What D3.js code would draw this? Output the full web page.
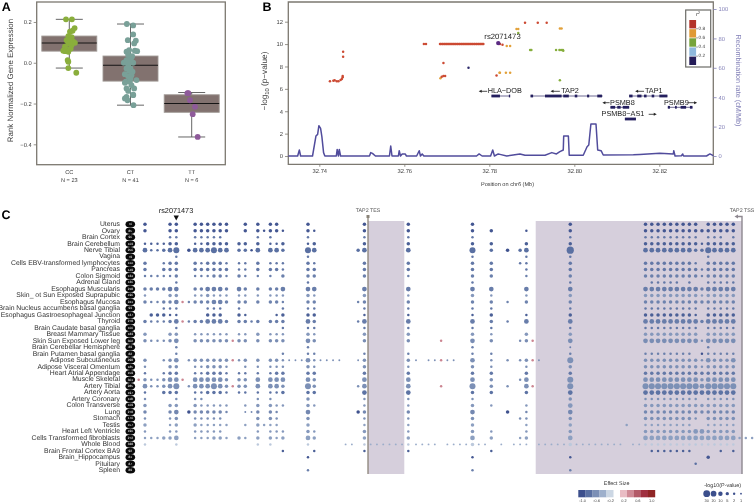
<!DOCTYPE html>
<html><head><meta charset="utf-8">
<script src="https://cdn.jsdelivr.net/npm/d3@7"></script>
<style>
html,body{margin:0;padding:0;background:#fff}
svg{display:block;font-family:"Liberation Sans",Arial,sans-serif;will-change:transform;text-rendering:geometricPrecision}
</style></head><body><svg id="c" width="756" height="503"></svg>
<script>
/* ---------- Panel A data ---------- */
const genotypes=["CC","CT","TT"];
const genotypeN=["N = 23","N = 41","N = 6"];
const boxQ1=[0.057,-0.09,-0.243], boxMed=[0.097,-0.012,-0.2], boxQ3=[0.131,0.033,-0.157];
const whiskLo=[-0.026,-0.208,-0.364], whiskHi=[0.213,0.19,-0.146];
const ccValues=[.213,.213,.170,.157,.152,.131,.125,.103,.111,.108,.095,.087,.098,.079,.066,.059,.057,.069,.054,.013,.005,-.026,-.049];
const ccJitter=[-.054,.043,.087,.054,.011,-.016,.038,.065,-.043,.011,-.016,.038,.092,-.071,-.043,-.098,-.065,.022,-.016,-.027,-.016,-.016,.114];
const ctValues=[.19,.183,.139,.111,.108,.095,.054,.059,.057,.038,.026,.013,.016,0,0,-.011,-.028,-.039,-.044,-.056,-.066,-.061,-.093,-.093,-.085,-.098,-.11,-.126,-.138,-.159,-.167,-.175,-.184,-.156,-.208,-.077,-.028,.005,.033,.062,-.126];
const ctJitter=[-.06,.044,.044,-.044,.087,.06,-.065,.071,.109,-.038,.016,-.065,-.011,-.109,.044,-.038,0,-.022,.033,-.092,-.038,.016,-.076,-.011,.098,-.092,.016,.06,-.038,.044,-.065,-.092,-.049,.044,.049,0,-.065,-.038,.027,-.022,-.065];
const ttValues=[-.149,-.149,-.184,-.216,-.252,-.364];
const ttJitter=[-.054,-.07,-.027,.054,.016,.098];
/* ---------- Panel B data ---------- */
const recombPos=[32.7327,32.7349,32.7353,32.7356,32.7384,32.7392,32.7396,32.7399,32.7403,32.7406,32.7410,32.7413,32.7440,32.7442,32.7445,32.7447,32.7450,32.7518,32.7521,32.7525,32.7532,32.7565,32.7568,32.7571,32.7586,32.7588,32.7591,32.7595,32.7602,32.7605,32.7629,32.7635,32.7638,32.7642,32.7646,32.7770,32.7776,32.7783,32.7803,32.7808,32.7812,32.7821,32.7825,32.7841,32.7856,32.7872,32.7884,32.7931,32.7947,32.7958,32.7966,32.7974,32.7975,32.7986,32.7988,32.8021,32.8030,32.8034,32.8039,32.8051,32.8055,32.8063,32.8068,32.8139,32.8154,32.8201,32.8233,32.8234,32.8237,32.8252,32.8255,32.8257,32.8311,32.8319,32.8327];
const recombRate=[0,0,4.1,0,0,13.6,14.7,20.6,18.8,13.2,2.3,0,0,4.5,0,4.5,0,0,2.3,1.8,0,0,6.8,0,0,3.6,0,1.4,1.4,0,0,3.6,0,1.4,0,0,1.4,0,0,4.1,0,1.4,1.1,0,.7,1.4,.5,.5,2.3,1.4,3,4.1,13.6,13.6,.5,.5,6.3,7.5,21.8,21.8,4.1,3.6,.7,.9,1.1,1.8,1.4,3.6,0,.2,1.4,0,0,1.4,.2];
const ldRedPos=[32.7425,32.7433,32.7436,32.7441,32.7445,32.7450,32.7453,32.7455,32.7455,32.7456,32.7456,32.7646,32.7651,32.7684,32.7686,32.7689,32.7691,32.7694,32.7696,32.7699,32.7701,32.7704,32.7706,32.7709,32.7711,32.7714,32.7716,32.7719,32.7721,32.7724,32.7726,32.7729,32.7731,32.7734,32.7736,32.7739,32.7741,32.7744,32.7746,32.7749,32.7751,32.7754,32.7756,32.7759,32.7761,32.7764,32.7766,32.7769,32.7771,32.7774,32.7776,32.7779,32.7781,32.7784,32.7786,32.7692,32.7688,32.7692,32.7696,32.7817,32.7825,32.7831,32.7884,32.7914,32.7935];
const ldRedVal=[6.67,6.73,6.76,6.67,6.67,6.79,6.88,7.03,7.15,8.87,9.32,10,10,10,10,10,10,10,10,10,10,10,10,10,10,10,10,10,10,10,10,10,10,10,10,10,10,10,10,10,10,10,10,10,10,10,10,10,10,10,10,10,10,10,10,8.31,7.09,7.15,7.15,7.2,10,9.95,11.9,11.9,11.9];
const ldOrangePos=[32.7685,32.7824,32.7841,32.7849,32.7825,32.7839,32.7849,32.7864,32.7868,32.7966,32.7970];
const ldOrangeVal=[6.94,7.44,9.83,9.83,7.44,7.44,7.44,11.35,11.35,11.4,11.4];
const ldGreenPos=[32.7868,32.7896,32.7899,32.7957,32.7965,32.7969,32.7973,32.7974,32.7966];
const ldGreenVal=[11,9.47,9.47,9.47,9.47,9.47,9.47,9.4,6.76];
const ldNavyPos=[32.7751], ldNavyVal=[7.89];
const leadSnp="rs2071473", leadPos=32.7821, leadVal=10.09;
const r2Ticks=["0.8","0.6","0.4","0.2"];
const geneNames=["HLA−DOB","TAP2","TAP1","PSMB8","PSMB9","PSMB8−AS1"];
const geneStart=[32.7805,32.7897,32.8129,32.8085,32.8220,32.8119];
const geneEnd=[32.7849,32.8067,32.8219,32.8129,32.8278,32.8145];
const geneStrand=[-1,-1,-1,-1,1,1];
const geneExons=[[[32.7805,32.7825],[32.7846,32.7849]],
 [[32.7897,32.7903],[32.7931,32.7970],[32.7974,32.7987],[32.8001,32.8007],[32.8030,32.8035],[32.8054,32.8065]],
 [[32.8129,32.8137],[32.8148,32.8158],[32.8164,32.8170],[32.8182,32.8188],[32.8200,32.8219]],
 [[32.8085,32.8096],[32.8101,32.8109],[32.8114,32.8129]],
 [[32.8220,32.8225],[32.8237,32.8241],[32.8250,32.8263],[32.8272,32.8278]],
 [[32.8119,32.8145]]];
/* ---------- Panel C data ---------- */
const tissues=["Uterus","Ovary","Brain Cortex","Brain Cerebellum","Nerve Tibial","Vagina","Cells EBV-transformed lymphocytes","Pancreas","Colon Sigmoid","Adrenal Gland","Esophagus Muscularis","Skin_ ot Sun Exposed Suprapubic","Esophagus Mucosa","Brain Nucleus accumbens basal ganglia","Esophagus Gastroesophageal Junction","Thyroid","Brain Caudate basal ganglia","Breast Mammary Tissue","Skin Sun Exposed Lower leg","Brain Cerebellar Hemisphere","Brain Putamen basal ganglia","Adipose Subcutaneous","Adipose Visceral Omentum","Heart Atrial Appendage","Muscle Skeletal","Artery Tibial","Artery Aorta","Artery Coronary","Colon Transverse","Lung","Stomach","Testis","Heart Left Ventricle","Cells Transformed fibroblasts","Whole Blood","Brain Frontal Cortex BA9","Brain_Hippocampus","Pituitary","Spleen"];
const tissueN=[70,85,96,103,256,79,114,149,124,126,218,196,241,93,127,278,100,183,302,89,82,298,185,159,361,285,197,118,169,278,170,157,190,272,338,92,81,87,89];
const tissueEffect=[-.95,-.95,-.75,-.9,-.8,-.75,-.75,-.75,-.7,-.75,-.72,-.55,-.68,-.75,-.9,-.72,-.75,-.55,-.62,-.7,-.7,-.6,-.6,-.75,-.6,-.6,-.78,-.6,-.55,-.65,-.6,-.5,-.55,-.5,-.42,-.9,-.95,-.8,-.7];
/* class per column: "cols:class" with class 1-6 (-log10 p bin), suffix d = strong effect, l = weak effect, r = positive effect */
const pBins=[1,2,5,10,20,30];
const rowDots=[
"1,5,6,9-14,17,19,21,22,27,36,43,53,68,80-88,90-94:3",
"1,5,6,9-14,17,19,21,22,27,36,43,53,56,68,80-94:3 20,23,28,61:2",
"5,6,9-13,19,21,27,36,43,53,68,80-88,90-92,94:2",
"1-4,9,10,21,22,27,89:2 5,6,11-14,16,17,19,23,28,36,43,53,56,61,68,80-88,90-94:3",
"2,3:2 18:2d 4,16,17,23,35,56,60,88,89:3 8,58:3d 1,5,9-11,13,14,19,21,22,28,36,43,61,80-87,91-94:4 6,12,27,53,90:5 68:6",
"6,27,53,61,68,90:2",
"4,10,14,16,17,21,22,23,28,60,61,88:2 1,5,6,9,11-13,19,27,36,43,53,56,68,80-87,90-94:3",
"16,17,23,61,89:2 1,4,5,6,9-14,19,21,22,27,28,36,43,53,56,68,80-88,90-94:3",
"1-5,9-11,14,17,19,21,43,61,89:2 6,12,13,16,23,27,28,36,53,56,68,80-88,90-94:3",
"6,27,53,68,81-85,87,90-94:2",
"1-4,9,10,14,17,19,21,22,89:3 5,6,11-13,16,23,27,28,36,43,53,56,61,68,80-88,90-94:4",
"1,9,10,12-14,16,17,19,21,22,23,28,43,56,61,89:2 5,6,11,27,36,53,68,80-88,90-94:3",
"2,3,8,23,35,58:2 1,4,5,9-11,14,16,17,19,21,22,27,28,36,43,53,56,61,68,80-94:3 6,12,13:4 7:r",
"4,5,6,11-13,16,23,27,28,36,43,53,56,68,80-88,90-94:2",
"5,6,17,22,36,43,53,61,88:2 2,3,4,11-13,16,23,27,28,56,68,80-87,90-94:3",
"2-4,8,18,35,58:2 1,5,9,10,14,16,17,19,21,22,23,28,56,89:3 6,11-13,27,36,43,53,61,68,80-88,90-94:4 7:r",
"6,23,27,28,36,43,53,56,68,80-88,90-94:2",
"9-14,16,17,21,22,23,28,56:2 1,5,6,19,27,36,43,53,61,68,80-88,90-94:3",
"2-4,60,89:2 1,5,9-14,16,17,19,21,22,23,28,36,43,56,61:3 6,27,53,68,80-88,90-94:4 15,48,62:r",
"68:1 6,27,53,90:2",
"6,23,27,28,36,43,53,56,68,80-87,90-94:2 89:2d",
"24-26,29-32,35,44,46,47,49,50,63:1 4,8,16,23,28,56,58,60,89:2 1,5,9-14,17,19,21,22,36,43,61,80-88,91-93:3 6,27,53,90,94:4 68:5 15,48,62:r",
"1,9,10,14,17,19,21,22,23,28,43,56,61,89:2 5,6,11-13,27,36,53,68,80-88,90-94:3",
"1,4,9,10,14,16,17,19,21:2 5,6,11-13,22,23,27,28,36,43,53,56,61,68,80-94:3",
"2,3,60:2 1,4,14,16,17,28,56,89:3 5,6,9-13,19,21,22,23,27,36,43,53,61,80-88,90-94:4 68:5 0,7:r",
"2,3,8,35,58:2 4,14,16,17,23,28,56:3 1,5,9-11,13,19,21,22,36,43,61,89:4 6,12,27,53,68,80-88,90-94:5 15,48,62:r",
"1,9,10,14,16,17,19,21,22:2 4,5,6,11-13,23,27,28,53,56,61:3 36,43,68,80-94:4",
"1,6,9,10,19,21,36,43,53,80-88,90-94:2 27,68:3",
"10-14,17,22,23,28,36,43,56,61:2 1,5,6,9,19,21,27,53,80-94:3 68:4",
"17,18:1 14,22,61:2 1,5,9-13,19,21,36,43,80-94:3 8,35,58:3d 6,27,53,68:4",
"1,5,9-13,22,36,43,60,61,88:2 6,19,21,27,53,68,80-87,90-94:3",
"5,10-14,17,20,21,22,36,43,61,77,80-87,90-94:2 1,6,9,19,27,53,68:3",
"1,5,6,9-13,19,21,22,23,28,43,56,61:2 27,36,53,68,80-87,90-94:3 88,89:4",
"1-3,9-11,14,17,22,60,95-97:2 4,5,12,13,16,19,21,23,28,36,43,56,61:3 6,27,53,68,80-94:4",
"33,34,37-42,44-47,49-52,54,55,57,59,60,61,63-67,69-76,78,79:1 1,6,19,21,27,36,43,80-94:2l 53,68:3l",
"23,28,36,43,56,81-87,92,94:2",
"27,53,68:2 90:3",
"88:2",
"27,53,68:2"];
const effectTicks=[-1,-.8,-.6,-.4,-.2,.2,.4,.6,.8,1];
const effectColors=["#3c4f8c","#5a70a2","#7c90b6","#9eb0cc","#ccd7e4","#e9bcc4","#cf8a96","#b35a68","#a03040","#8f2525"];
const effectLabels=["-1.0","-0.6","-0.2","0.2","0.6","1.0"];
const effectLabelValues=[-1,-.6,-.2,.2,.6,1];

const svg=d3.select("#c");
const FRAME="#7c7870", TXT="#3c3c3c";
function label(g,x,y,t,fs,opt={}){return g.append("text").attr("x",x).attr("y",y).text(t).attr("font-size",fs).attr("fill",opt.fill||TXT).attr("text-anchor",opt.anchor||"middle").attr("font-weight",opt.weight||null).attr("dominant-baseline","middle").attr("transform",opt.rot?`rotate(${opt.rot} ${x} ${y})`:null);}
function styleAxis(g,col,fs){g.select(".domain").remove();g.selectAll("line").attr("stroke",col).attr("stroke-width",.8);g.selectAll("text").attr("font-size",fs).attr("fill",col===FRAME?TXT:col);}

/* Panel letters */
label(svg,6.3,8,"A",12.5,{weight:"bold",fill:"#000"});
label(svg,267,8,"B",12.5,{weight:"bold",fill:"#000"});
label(svg,6,216,"C",12.5,{weight:"bold",fill:"#000"});

/* ---------- Panel A ---------- */
const ax=d3.scalePoint().domain(genotypes).range([69.3,191.7]);
const ay=d3.scaleLinear().domain([-.5,.298]).range([164.7,2]);
const A=svg.append("g");
A.append("rect").attr("x",36.7).attr("y",2).attr("width",188.6).attr("height",162.7).attr("fill","#fff").attr("stroke",FRAME).attr("stroke-width",1.3);
const aYAxis=A.append("g").attr("transform","translate(36.7,0)").call(d3.axisLeft(ay).tickValues([.2,0,-.2,-.4]).tickFormat(d3.format(".1f")).tickSize(3).tickPadding(2));
styleAxis(aYAxis,FRAME,5.8);
aYAxis.selectAll("text").text(d=>d3.format(".1f")(d));
label(A,10.5,80.5,"Rank Normalized Gene Expression",7.9,{rot:-90});
genotypes.forEach((g,i)=>{
  const x=ax(g),bw=55,cap=27;
  A.append("line").attr("x1",x).attr("x2",x).attr("y1",ay(whiskHi[i])).attr("y2",ay(whiskLo[i])).attr("stroke","#555").attr("stroke-width",.9);
  [whiskHi[i],whiskLo[i]].forEach(v=>A.append("line").attr("x1",x-cap/2).attr("x2",x+cap/2).attr("y1",ay(v)).attr("y2",ay(v)).attr("stroke","#555").attr("stroke-width",.9));
  A.append("rect").attr("x",x-bw/2).attr("width",bw).attr("y",ay(boxQ3[i])).attr("height",ay(boxQ1[i])-ay(boxQ3[i])).attr("fill","#82726f").attr("stroke","#a09a96").attr("stroke-width",.9);
  A.append("line").attr("x1",x-bw/2).attr("x2",x+bw/2).attr("y1",ay(boxMed[i])).attr("y2",ay(boxMed[i])).attr("stroke","#151515").attr("stroke-width",1.1);
  label(A,x,172.7,g,5.6);
  label(A,x,180.3,genotypeN[i],5.6);
});
[[ccValues,ccJitter,"CC","#8aae3c"],[ctValues,ctJitter,"CT","#79a098"],[ttValues,ttJitter,"TT","#8e5a9a"]].forEach(([v,j,g,c])=>{
  const step=ax.step();
  A.append("g").selectAll("circle").data(v).join("circle").attr("cx",(d,i)=>ax(g)+j[i]*step).attr("cy",d=>ay(d)).attr("r",2.9).attr("fill",c);
});

/* ---------- Panel B ---------- */
const bx=d3.scaleLinear().domain([32.7327,32.8327]).range([288.3,713.3]);
const by=d3.scaleLinear().domain([-.74,13.76]).range([164.3,2]);
const brec=d3.scaleLinear().domain([0,100]).range([156,9]);
const B=svg.append("g");
const RC="#8381b8";
B.append("path").attr("d","M288.3,2H713.3V164.3H288.3Z").attr("fill","#fff").attr("stroke",FRAME).attr("stroke-width",1.3);
styleAxis(B.append("g").attr("transform","translate(288.3,0)").call(d3.axisLeft(by).tickValues(d3.range(0,13,2)).tickSize(3.3).tickPadding(2)),FRAME,5.8);
styleAxis(B.append("g").attr("transform","translate(0,164.3)").call(d3.axisBottom(bx).tickValues([32.74,32.76,32.78,32.80,32.82]).tickFormat(d3.format(".2f")).tickSize(2.5).tickPadding(2.5)),FRAME,5.8);
styleAxis(B.append("g").attr("transform","translate(713.3,0)").call(d3.axisRight(brec).tickValues([0,20,40,60,80,100]).tickSize(3.3).tickPadding(2)),RC,5.8);
const yl=B.append("text").attr("transform","translate(265,81) rotate(-90)").attr("text-anchor","middle").attr("dominant-baseline","middle").attr("font-size",8.2).attr("fill",TXT);
yl.append("tspan").text("−log");
yl.append("tspan").text("10").attr("font-size",5.8).attr("dy",2.2);
yl.append("tspan").text(" (p−value)").attr("dy",-2.2);
label(B,507.5,185,"Position on chr6 (Mb)",5.6);
label(B,737.5,80.5,"Recombination rate (cM/Mb)",7.3,{rot:90,fill:RC});
const recLine=d3.line().x(d=>bx(d[0])).y(d=>brec(d[1]));
B.append("path").attr("d",recLine(d3.zip(recombPos,recombRate))).attr("fill","none").attr("stroke","#514c9c").attr("stroke-width",1.5).attr("stroke-linejoin","round");
[[ldNavyPos,ldNavyVal,"#2d2a6b"],[ldGreenPos,ldGreenVal,"#86ae3c"],[ldOrangePos,ldOrangeVal,"#e2a13a"],[ldRedPos,ldRedVal,"#cc4a33"]].forEach(([p,v,c])=>{
  B.append("g").selectAll("circle").data(p).join("circle").attr("cx",d=>bx(d)).attr("cy",(d,i)=>by(v[i])).attr("r",1.25).attr("fill",c);
});
B.append("circle").attr("cx",bx(leadPos)).attr("cy",by(leadVal)).attr("r",2.2).attr("fill","#5b2a83");
label(B,502.5,37,leadSnp,7.7,{fill:"#222"});
/* genes */
const geneRow=[0,0,0,1,1,2];
const geneY=[96,107.3,119], labelY=[91.3,102.7,114.3];
const labelAnchorX=[32.7796,32.7969,32.8166,32.8084,32.8211,32.8064];
const arrowX=[[32.7795,32.7775],[32.7966,32.7944],[32.8164,32.8143],[32.8083,32.8066],[32.8267,32.8289],[32.8175,32.8194]];
geneNames.forEach((n,i)=>{
  const r=geneRow[i],gy=geneY[r],ly=labelY[r];
  B.append("line").attr("x1",bx(geneStart[i])).attr("x2",bx(geneEnd[i])).attr("y1",gy).attr("y2",gy).attr("stroke","#5d5a88").attr("stroke-width",.9);
  geneExons[i].forEach(e=>B.append("rect").attr("x",bx(e[0])).attr("width",Math.max(bx(e[1])-bx(e[0]),1)).attr("y",gy-1.4).attr("height",2.8).attr("fill","#241f5e"));
  label(B,bx(labelAnchorX[i]),ly,n,7.3,{anchor:"start",fill:"#222"});
  const [a0,a1]=arrowX[i].map(bx),s=Math.sign(a1-a0);
  B.append("line").attr("x1",a0).attr("x2",a1-s*2).attr("y1",ly).attr("y2",ly).attr("stroke","#222").attr("stroke-width",.8);
  B.append("path").attr("d",`M${a1},${ly}L${a1-s*3},${ly-1.5}L${a1-s*3},${ly+1.5}Z`).attr("fill","#222");
});
/* r2 legend */
const L=B.append("g");
L.append("rect").attr("x",685.7).attr("y",10).attr("width",25).attr("height",57).attr("fill","#fff").attr("stroke","#6b6b66").attr("stroke-width",1.2);
const r2Colors=["#b33229","#e09a35","#76a33a","#8fb8dc","#241c58"];
const legY=d3.scaleBand().domain(d3.range(5)).range([20,65]).paddingInner(.08);
L.selectAll("rect.k").data(r2Colors).join("rect").attr("class","k").attr("x",689.3).attr("width",6.8).attr("y",(d,i)=>legY(i)).attr("height",legY.bandwidth()).attr("fill",d=>d);
r2Ticks.forEach((t,i)=>{
  const y=legY(i+1)-.4;
  L.append("line").attr("x1",696).attr("x2",698).attr("y1",y).attr("y2",y).attr("stroke","#444").attr("stroke-width",.5);
  label(L,698.5,y,t,4.8,{anchor:"start"});
});
const r2t=L.append("text").attr("x",698).attr("y",16).attr("font-size",5.6).attr("font-style","italic").attr("text-anchor","middle").attr("fill",TXT);
r2t.append("tspan").text("r");r2t.append("tspan").text("2").attr("font-size",4).attr("dy",-1.6);

/* ---------- Panel C ---------- */
const C=svg.append("g");
const rowY=d3.scalePoint().domain(tissues).range([224.3,470.3]);
const colX=d3.scaleLinear().domain([0,43,44,56,57,97]).range([138.7,408.3,416,491.3,501.3,752.1]);
const SHADE="#d6cfdc";
const topY=221,botY=474;
C.append("rect").attr("x",368).attr("y",topY).attr("width",36.3).attr("height",botY-topY).attr("fill",SHADE);
C.append("rect").attr("x",535.7).attr("y",topY).attr("width",206.3).attr("height",botY-topY).attr("fill",SHADE);
C.append("line").attr("x1",368).attr("x2",368).attr("y1",216.5).attr("y2",botY).attr("stroke","#8a8378").attr("stroke-width",1.3);
C.append("rect").attr("x",366.5).attr("y",215).attr("width",3).attr("height",3).attr("fill","#8a8378");
C.append("path").attr("d",`M742,${botY}V216.5H737`).attr("fill","none").attr("stroke","#8e8890").attr("stroke-width",1.4);
C.append("path").attr("d","M734.5,216.5L738,214.6V218.4Z").attr("fill","#8e8890");
label(C,368,210.7,"TAP2 TES",5.3,{fill:"#555"});
label(C,742,210.7,"TAP2 TSS",5.3,{fill:"#555"});
label(C,176,211,leadSnp,7.3,{fill:"#222"});
C.append("path").attr("d","M173.6,215.6H178.9L176.25,220.4Z").attr("fill","#111");
tissues.forEach((t,i)=>{
  const y=rowY(t);
  label(C,120,y,t,6.83,{anchor:"end",fill:"#333"});
  C.append("ellipse").attr("cx",130.3).attr("cy",y).attr("rx",4.8).attr("ry",3.25).attr("fill","#0a0a0a");
  label(C,130.3,y+.1,tissueN[i],3.1,{fill:"#fff"});
});
const rOf=d3.scaleLinear().domain([1,2,5,10,20,30]).range([.95,1.25,1.75,2.35,3,3.6]);
const color=d3.scaleLinear().domain(effectTicks).range(effectColors).clamp(true);
const dots=[];
rowDots.forEach((s,r)=>{
  s.split(" ").forEach(tok=>{
    const [cols,cl]=tok.split(":");
    cols.split(",").forEach(c=>{
      const [a,b]=c.split("-").map(Number);
      d3.range(a,(b===undefined?a:b)+1).forEach(k=>{
        const red=cl==="r";
        const e=red?.42:cl.endsWith("d")?-.98:cl.endsWith("l")?-.27:tissueEffect[r];
        dots.push({r,c:k,p:red?2:pBins[+cl[0]-1],e});
      });
    });
  });
});
C.append("g").selectAll("circle").data(dots).join("circle")
 .attr("cx",d=>colX(d.c)).attr("cy",d=>rowY(tissues[d.r])).attr("r",d=>rOf(d.p)).attr("fill",d=>color(d.e));
/* legends */
label(C,616.7,484,"Effect Size",5.4,{fill:"#333"});
[[effectTicks.slice(0,5),578.3],[effectTicks.slice(5),620]].forEach(([ts,x0])=>{
  const sc=d3.scaleBand().domain(ts).range([x0,x0+35]);
  C.selectAll(null).data(ts).join("rect").attr("x",d=>sc(d)).attr("width",sc.bandwidth()+.2).attr("y",490).attr("height",7.3).attr("fill",d=>color(d));
});
const effLabX=d3.scaleLinear().domain([-1,-.2,.2,1]).range([582.7,610.7,624,651.7]);
effectLabels.forEach((t,i)=>label(C,effLabX(effectLabelValues[i]),500.8,t,3.9,{fill:"#444"}));
label(C,722.7,486,"-log10(P-value)",5.4,{fill:"#333"});
const pLegX=d3.scalePoint().domain([30,20,10,5,2,1]).range([706.7,741]);
[30,20,10,5,2,1].forEach(p=>{
  C.append("circle").attr("cx",pLegX(p)).attr("cy",493.7).attr("r",rOf(p)*.95).attr("fill","#3c4f8c");
  label(C,pLegX(p),500.8,p,3.9,{fill:"#444"});
});
</script></body></html>
